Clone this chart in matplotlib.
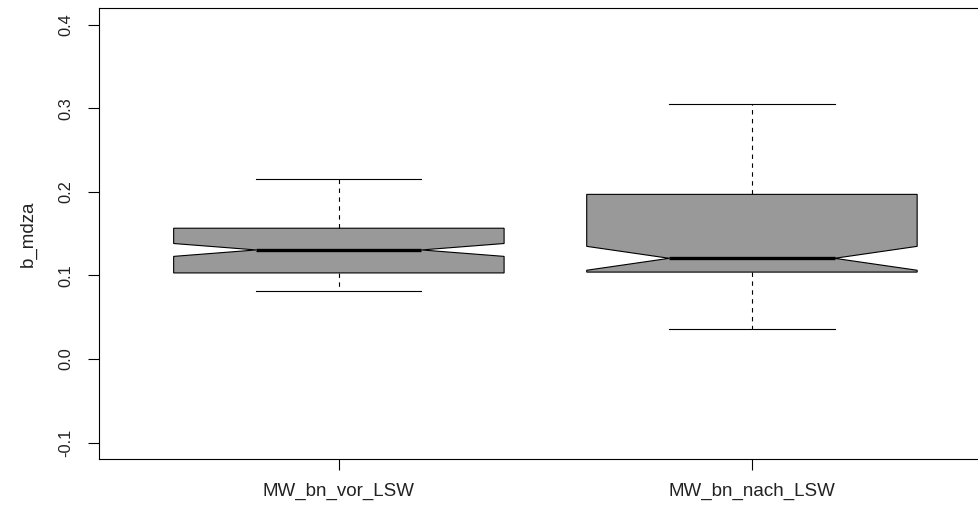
import matplotlib
matplotlib.use("Agg")
from matplotlib import pyplot as plt

# data (notched boxplot, R style)
names = ["MW_bn_vor_LSW", "MW_bn_nach_LSW"]
whislo = [0.081, 0.036]
q1 = [0.103, 0.104]
med = [0.1305, 0.1205]
q3 = [0.1565, 0.197]
whishi = [0.215, 0.305]
cilo = [0.1228, 0.1062]
cihi = [0.1382, 0.1348]
yticks = [-0.1, 0.0, 0.1, 0.2, 0.3, 0.4]
ytick_labels = ["-0.1", "0.0", "0.1", "0.2", "0.3", "0.4"]

plt.rcParams['font.family'] = ['Liberation Sans', 'DejaVu Sans']

stats = []
for i in range(len(names)):
    stats.append(dict(label=names[i], whislo=whislo[i], q1=q1[i], med=med[i],
                      q3=q3[i], whishi=whishi[i], cilo=cilo[i], cihi=cihi[i],
                      fliers=[]))

W, H = 979, 508
fig = plt.figure(figsize=(W / 100., H / 100.), dpi=100)
# right edge of the plot box lies just outside the picture in the reference
ax = fig.add_axes([99.3 / W, 48.7 / H, 892.2 / W, 451.3 / H])

lw = 0.8
ax.bxp(stats, positions=[1, 2], widths=0.8, shownotches=True, patch_artist=True,
       showfliers=False,
       boxprops=dict(facecolor='#999999', edgecolor='black', linewidth=lw),
       whiskerprops=dict(color='black', linewidth=lw, linestyle=(0, (4, 4))),
       capprops=dict(color='black', linewidth=lw),
       medianprops=dict(color='black', linewidth=2.4, solid_capstyle='butt'))

ax.set_xlim(0.42, 2.58)
ax.set_ylim(-0.12, 0.42)
ax.set_xticks([1, 2])
ax.set_xticklabels(names, fontsize=13.5, color='#222222')
ax.set_yticks(yticks)
ax.set_yticklabels(ytick_labels, fontsize=11.8, rotation=90, va='center', color='#222222')
ax.tick_params(axis='both', length=7.9, width=lw, color='black')
ax.tick_params(axis='x', pad=9)
ax.tick_params(axis='y', pad=11)
for sp in ax.spines.values():
    sp.set_linewidth(lw)
    sp.set_color('black')

ax.set_ylabel("b_mdza", fontsize=13.5, color='#222222')
ax.yaxis.set_label_coords(-0.07, 0.5)

fig.savefig("out.png", dpi=100)
